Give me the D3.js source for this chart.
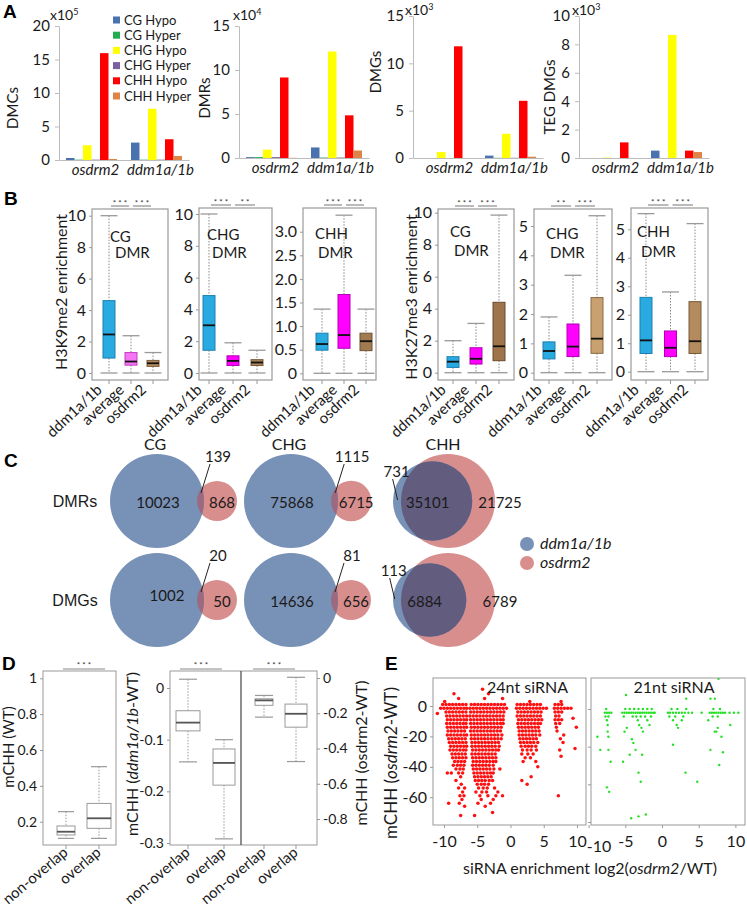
<!DOCTYPE html>
<html><head><meta charset="utf-8">
<script src="https://cdn.jsdelivr.net/npm/d3@7/dist/d3.min.js"></script>
<style>body{margin:0;background:#fff}svg{display:block}</style>
</head><body><svg id="chart" width="747" height="908"></svg>
<script>
// ---------------- DATA ----------------
// Panel A
const groupsA = ["osdrm2", "ddm1a/1b"];
const seriesA = ["CG Hypo", "CG Hyper", "CHG Hypo", "CHG Hyper", "CHH Hypo", "CHH Hyper"];
const dmcValues = [[0.3, 0.05, 2.2, 0.05, 15.95, 0.15], [2.6, 0.05, 7.65, 0.05, 3.1, 0.6]];
const dmrValues = [[0.1, 0.1, 0.95, 0.1, 9.15, 0.02], [1.2, 0.05, 12.1, 0.05, 4.85, 0.85]];
const dmgValues = [[0, 0, 0.63, 0, 11.8, 0], [0.25, 0.02, 2.56, 0.02, 6.04, 0.14]];
const tegValues = [[0, 0, 0.03, 0, 1.1, 0], [0.52, 0, 8.67, 0, 0.52, 0.42]];
const ticksDMC = [0, 5, 10, 15, 20];
const ticksDMR = [0, 5, 10, 15];
const ticksDMG = [0, 5, 10, 15];
const ticksTEG = [0, 2, 4, 6, 8, 10];

// Panel B  (each box: [low, q1, median, q3, high])
const groupsB = ["ddm1a/1b", "average", "osdrm2"];
const k9CG  = [[0, 0.95, 2.45, 4.6, 10], [0, 0.5, 0.73, 1.3, 2.37], [0, 0.42, 0.62, 0.8, 1.3]];
const k9CHG = [[0, 1.43, 3.0, 4.87, 10], [0, 0.47, 0.76, 1.08, 1.9], [0, 0.47, 0.66, 0.84, 1.43]];
const k9CHH = [[0, 0.49, 0.62, 0.85, 1.36], [0, 0.53, 0.81, 1.67, 3.35], [0, 0.48, 0.68, 0.85, 1.36]];
const k27CG  = [[0, 0.33, 0.69, 1.0, 2.0], [0, 0.54, 0.87, 1.56, 3.08], [0, 0.75, 1.65, 4.4, 9.85]];
const k27CHG = [[0, 0.47, 0.74, 1.05, 1.9], [0, 0.55, 0.89, 1.66, 3.32], [0, 0.66, 1.16, 2.56, 5.35]];
const k27CHH = [[0, 0.64, 1.1, 2.61, 5.55], [0, 0.53, 0.84, 1.43, 2.8], [0, 0.64, 1.07, 2.46, 5.2]];
const sigB = [["***", "***"], ["***", "**"], ["***", "***"], ["***", "***"], ["**", "***"], ["***", "***"]];
const ticksB10 = [0, 2, 4, 6, 8, 10];
const ticksB3 = [0, 0.5, 1.0, 1.5, 2.0, 2.5, 3.0];
const ticksB5 = [0, 1, 2, 3, 4, 5];

// Panel C  (counts: [ddm1a/1b only, overlap, osdrm2 only])
const vennContexts = ["CG", "CHG", "CHH"];
const vennRows = ["DMRs", "DMGs"];
const vennDMR = [[10023, 139, 868], [75868, 1115, 6715], [731, 35101, 21725]];
const vennDMG = [[1002, 20, 50], [14636, 81, 656], [113, 6884, 6789]];
const vennSets = ["ddm1a/1b", "osdrm2"];

// Panel D
const groupsD = ["non-overlap", "overlap"];
const mchhWT   = [[0.107, 0.126, 0.144, 0.176, 0.256], [0.107, 0.163, 0.219, 0.302, 0.507]];
const mchhDdm  = [[-0.143, -0.083, -0.067, -0.044, 0.017], [-0.292, -0.188, -0.145, -0.118, -0.1]];
const mchhDrm  = [[-0.222, -0.155, -0.127, -0.118, -0.099], [-0.474, -0.279, -0.203, -0.148, 0.004]];
const ticksDWT = [0.2, 0.4, 0.6, 0.8, 1];
const ticksDDdm = [0, -0.1, -0.2, -0.3];
const ticksDDrm = [0, -0.2, -0.4, -0.6, -0.8];

// Panel E  (rows: [mCHH value, [siRNA log2 values...]])
const red24 = [
 [11, [-4.2]], [8, [-8.5, -3.3]], [5, [-7.8, -3.9, -1.2]], [3, [-9.9, 2.9, 7.6]],
 [1, [-10.2, -9.7, -9.2, -8.7, -8.2, -7.7, -7.2, -6.7, -5.9, -5.4, -4.9, -4.4, -3.9, -3.4, -2.9, -2.4, -1.9, -1.4, -0.9, 1.0, 1.5, 2.0, 2.5, 3.0, 3.5, 4.0, 4.5, 6.7, 7.2, 7.7]],
 [-1.5, [-10.5, -10, -9.5, -9, -8.5, -8, -7.5, -7, -6.6, -6.1, -5.6, -5.1, -4.6, -4.1, -3.6, -3.1, -2.6, -2.1, -1.6, -1.1, -0.6, 0.9, 1.4, 1.9, 2.4, 2.9, 3.4, 3.9, 4.4, 4.9, 5.4, 6.6, 7.1, 7.6, 8.1, 8.6, 9.1]],
 [-4, [-9.7, -9.2, -8.7, -8.2, -7.7, -7.2, -6.7, -6.0, -5.5, -5, -4.5, -4, -3.5, -3, -2.5, -2, -1.5, -1, 1.1, 1.6, 2.1, 2.6, 3.1, 3.6, 4.1, 4.6, 6.7, 7.2, 7.7]],
 [-5, [-11.0]],
 [-6.5, [-9.6, -9.1, -8.6, -8.1, -7.6, -7.1, -6.6, -6.1, -5.6, -5.1, -4.6, -4.1, -3.6, -3.1, -2.6, -2.1, -1.6, -1.1, 1.0, 1.5, 2, 2.5, 3, 3.5, 4, 4.5, 6.8, 7.3]],
 [-8, [9.4]],
 [-9, [-9.5, -9, -8.5, -8, -7.5, -7, -6.6, -6, -5.5, -5, -4.5, -4, -3.5, -3, -2.5, -2, -1.5, -1.1, 1.2, 1.7, 2.2, 2.7, 3.2, 3.7, 4.2, 4.7, 6.7, 7.2, 7.7]],
 [-11.5, [-9.6, -9.1, -8.6, -8.1, -7.6, -7.1, -6.7, -6, -5.5, -5, -4.5, -4, -3.5, -3, -2.5, -2, -1.5, -1.1, 1.1, 1.6, 2.1, 2.6, 3.1, 3.6, 4.1, 4.5, 6.8, 7.4]],
 [-14, [-9.5, -9, -8.5, -8, -7.5, -7, -6.6, -5.9, -5.4, -4.9, -4.4, -3.9, -3.4, -2.9, -2.4, -1.9, -1.4, 1.2, 1.7, 2.2, 2.7, 3.2, 3.7, 4.2, 6.9, 9.9]],
 [-16.5, [-9.4, -8.9, -8.4, -7.9, -7.4, -6.9, -6, -5.5, -5, -4.5, -4, -3.5, -3, -2.5, -2, -1.5, 1.3, 1.8, 2.3, 2.8, 3.3, 3.8, 4.3, 7.0]],
 [-19, [-9.5, -9, -8.5, -8, -7.5, -7, -6.6, -5.9, -5.4, -4.9, -4.4, -3.9, -3.4, -2.9, -2.4, -1.9, -1.3, 1.3, 1.8, 2.3, 2.8, 3.3, 3.8, 4.4, 8.0]],
 [-21.5, [-9.3, -8.8, -8.3, -7.8, -7.3, -6.8, -5.9, -5.4, -4.9, -4.4, -3.9, -3.4, -2.9, -2.4, -1.9, -1.4, 1.4, 1.9, 2.4, 2.9, 3.4, 3.9, 7.5]],
 [-24, [-9.2, -8.7, -8.2, -7.7, -7.2, -6.7, -5.8, -5.3, -4.8, -4.3, -3.8, -3.3, -2.8, -2.3, -1.8, 1.5, 2, 2.5, 3, 3.5, 4.1, 7.9]],
 [-26.5, [-9, -8.5, -8, -7.5, -7, -6.6, -5.8, -5.3, -4.8, -4.3, -3.8, -3.3, -2.8, -2.3, -1.7, 1.6, 2.2, 2.7, 3.2, 3.8]],
 [-28, [9.7]],
 [-29, [-9.1, -8.6, -8.1, -7.6, -7.1, -6.7, -5.7, -5.2, -4.7, -4.2, -3.7, -3.2, -2.7, -2.2, -1.8, 1.8, 2.5, 3.1, 3.9, 7.4]],
 [-31.5, [-8.8, -8.3, -7.8, -7.3, -6.8, -5.8, -5.3, -4.8, -4.3, -3.8, -3.3, -2.8, -2.3, 1.7, 2.6, 3.4]],
 [-33, [7.6]],
 [-34, [-8.7, -8.2, -7.7, -7.2, -6.7, -5.7, -5.2, -4.7, -4.2, -3.7, -3.2, -2.7, -2.2, 2.2, 3.0]],
 [-36.5, [-8.4, -7.9, -7.4, -6.9, -5.6, -5.1, -4.6, -4.1, -3.6, -3.1, -2.6, -2.2, 1.9, 3.8]],
 [-39, [-8.6, -8, -7.5, -7, -5.7, -5.2, -4.7, -4.2, -3.7, -3.2, -2.6]],
 [-40, [4.1]],
 [-41.5, [-8.2, -7.6, -7.1, -5.6, -5.1, -4.6, -4.1, -3.6, -3.1, -2.5, -1.6]],
 [-44, [-9.5, -8.9, -7.8, -7.2, -5.5, -5, -4.5, -4, -3.5, -3, -2.6]],
 [-46.5, [-7.5, -5.4, -4.9, -4.4, -3.9, -3.4, -2.9, 3.1]],
 [-49, [-8.2, -5.3, -4.8, -4.3, -3.8, -3.2, -2.7, 1.7]],
 [-51.5, [-7.4, -5, -4.4, -3.9, -3.3, 2.5]],
 [-54, [-7.8, -6.9, -4.8, -4.1, -3.5, -2.4]],
 [-56.5, [-7.2, -5.2, -4.3, -3.6, -1.9]],
 [-59, [-7.6, -7.0, -4.6, -3.4, -2.2, -1.2, 7.2]],
 [-61.5, [-7.3, -4.4, -2.6]],
 [-64, [-9.3, -7.7, -4.9, -3.0]],
 [-66, [-6.9, -3.8]],
 [-70, [-2.7]],
 [-72, [-7.5, -5.4]]
];
const green21 = [
 [16, [7.7]], [7.4, [-4.9]], [5.5, [3.3, 6.6, 7.2]],
 [0, [-7.6, -5.0, -4.4, -3.8, -3.2, -2.6, -2.0, -1.4, 1.3, 2.1, 3.3, 7.0, 7.9]],
 [-2, [-7.8, -7.5, -7.2, -6.9, -5.4, -5.1, -4.8, -4.5, -4.2, -3.9, -3.6, -3.3, -3.0, -2.7, -2.4, -2.1, -1.8, -1.5, -1.2, -1.0, 0.8, 1.1, 1.5, 1.9, 2.3, 2.7, 3.1, 3.6, 4.1, 5.4, 6.5, 6.8, 7.1, 7.4, 7.7, 8.0, 8.3, 8.6, 9.2, 9.8, 10.4]],
 [-4, [-7.7, -7.3, -5.2, -4.0, -3.5, -2.9, -2.3, -1.5, 1.0, 1.8, 2.9, 6.9, 7.6]],
 [-6, [-7.5, -3.3, -2.0, 1.5, 2.7, 6.3]],
 [-8.5, [-7.4, -3.1, -1.7, 2.0, 9.3]],
 [-10, [-4.8, -2.8, 2.2, 7.6]],
 [-12, [-7.4, -5.1, -2.6, 7.2, 7.4]],
 [-14.7, [-8.8, -7.3, 8.1]],
 [-16, [-4.1]], [-18, [-3.9]], [-19, [1.5]],
 [-21.7, [-8.4, -7.3, -3.6, 6.6]],
 [-23, [8.3]], [-24.3, [-4.4, -2.7]],
 [-28, [-7.0, -5.3]], [-29.7, [7.8]],
 [-33.8, [-3.2, 3.2]], [-38.6, [-2.9, 4.8]],
 [-41.6, [-7.5]], [-44, [-7.2]],
 [-56, [-2.2]], [-57, [-3.2]], [-58, [-4.2]]
];
const ticksEx = [-10, -5, 0, 5, 10];
const ticksEy = [0, -20, -40, -60];

// ---------------- DRAWING ----------------
const svg = d3.select("#chart");
const FONT = "Lato, 'Open Sans', sans-serif";
const ARIAL = "'Liberation Sans', Arial, sans-serif";
const fmtH = d => String(d);   // ASCII hyphen for negatives, as in the figure
svg.append("rect").attr("width", 747).attr("height", 908).attr("fill", "#fff");

function letter(t, x, y) {
  svg.append("text").attr("x", x).attr("y", y).text(t)
    .attr("font-family", ARIAL).attr("font-weight", "bold").attr("font-size", 19).attr("fill", "#000");
}
function styleAxis(ax, size) {
  ax.selectAll("line").attr("stroke", "#999");
  ax.selectAll("path").attr("stroke", "#999");
  ax.selectAll("text").attr("font-family", FONT).attr("font-size", size).attr("fill", "#1a1a1a");
}
function vtitle(g, x, y, parts, size) {
  const t = g.append("text").attr("transform", `translate(${x},${y}) rotate(-90)`)
    .attr("text-anchor", "middle").attr("font-family", FONT).attr("font-size", size).attr("fill", "#1a1a1a");
  parts.forEach(p => t.append("tspan").text(p[0]).attr("font-style", p[1] ? "italic" : "normal"));
  return t;
}

// ---- Panel A ----
letter("A", 3, 18);
const colorsA = ["#4A72AE", "#22AD55", "#FFFF00", "#7B5FA0", "#FF0000", "#DF8448"];
function barChart(vals, ticks, xr, yr, expo, expPos, title, titlePos) {
  const g = svg.append("g");
  const x0 = d3.scaleBand().domain(groupsA).range(xr).paddingInner(0.215).paddingOuter(0.1075);
  const x1 = d3.scaleBand().domain(seriesA).range([0, x0.bandwidth()]);
  const y = d3.scaleLinear().domain([0, ticks[ticks.length - 1]]).range(yr);
  const ay = g.append("g").attr("transform", `translate(${xr[0]},0)`)
    .call(d3.axisLeft(y).tickValues(ticks).tickSize(4).tickSizeOuter(0).tickPadding(5));
  styleAxis(ay, 15);
  ay.selectAll("path,line").attr("stroke", "#bcbcbc");
  const ax = g.append("g").attr("transform", `translate(0,${yr[0]})`)
    .call(d3.axisBottom(x0).tickSize(0).tickSizeOuter(0).tickPadding(4));
  styleAxis(ax, 15);
  ax.select("path").attr("stroke", "#bcbcbc");
  ax.selectAll("text").attr("font-style", "italic").attr("dx", 4);
  groupsA.forEach((gn, i) => seriesA.forEach((s, j) => {
    g.append("rect").attr("x", x0(gn) + x1(s)).attr("width", x1.bandwidth())
      .attr("y", y(vals[i][j])).attr("height", yr[0] - y(vals[i][j])).attr("fill", colorsA[j]);
  }));
  const e = g.append("text").attr("x", expPos[0]).attr("y", expPos[1])
    .attr("font-family", FONT).attr("font-size", 14).attr("fill", "#1a1a1a");
  e.append("tspan").text("x10");
  e.append("tspan").text(expo).attr("font-size", 9).attr("dy", -5);
  vtitle(g, titlePos[0], titlePos[1], [[title, false]], 15);
}
barChart(dmcValues, ticksDMC, [59, 189], [160, 26], "5", [50, 20], "DMCs", [18, 108]);
barChart(dmrValues, ticksDMR, [239, 369], [158, 26], "4", [233, 20], "DMRs", [210, 98]);
barChart(dmgValues, ticksDMG, [413, 543], [158, 16], "3", [405, 15], "DMGs", [381, 72]);
barChart(tegValues, ticksTEG, [579, 709], [158, 16], "3", [572, 15], "TEG DMGs", [555, 97]);
// legend A
const legA = svg.append("g");
seriesA.forEach((s, j) => {
  legA.append("rect").attr("x", 113).attr("y", 20 + j * 15.2 - 3.5).attr("width", 7).attr("height", 7).attr("fill", colorsA[j]);
  legA.append("text").attr("x", 124).attr("y", 20 + j * 15.2 + 4.5).text(s)
    .attr("font-family", FONT).attr("font-size", 13).attr("fill", "#1a1a1a");
});

// ---- Panel B ----
letter("B", 4, 205);
function boxPanel(cfg, data, sig) {
  const g = svg.append("g");
  const [fx0, fx1, fy0, fy1] = cfg.frame;
  const y = d3.scaleLinear().domain([0, cfg.tmax]).range([cfg.y0, cfg.yt]);
  const x = d3.scalePoint().domain(cfg.groups).range(cfg.cx);
  g.append("rect").attr("x", fx0).attr("y", fy0).attr("width", fx1 - fx0).attr("height", fy1 - fy0)
    .attr("fill", "none").attr("stroke", cfg.frameColor || "#9a9a9a").attr("stroke-width", 1.2);
  const ay = g.append("g").attr("transform", `translate(${fx0},0)`)
    .call(d3.axisLeft(y).tickValues(cfg.ticks).tickSize(3).tickPadding(3).tickFormat(cfg.fmt));
  styleAxis(ay, cfg.fs || 16);
  ay.select("path").remove();
  cfg.groups.forEach((gn, i) => {
    const d = data[i], cx = x(gn), bw = cfg.bw, cw = cfg.cw;
    g.append("line").attr("x1", cx).attr("x2", cx).attr("y1", y(d[4])).attr("y2", y(d[3]))
      .attr("stroke", "#888").attr("stroke-dasharray", "1.5,1.5");
    g.append("line").attr("x1", cx).attr("x2", cx).attr("y1", y(d[1])).attr("y2", y(d[0]))
      .attr("stroke", "#888").attr("stroke-dasharray", "1.5,1.5");
    [d[0], d[4]].forEach(v => g.append("line").attr("x1", cx - cw / 2).attr("x2", cx + cw / 2)
      .attr("y1", y(v)).attr("y2", y(v)).attr("stroke", "#999").attr("stroke-width", 1.3));
    g.append("rect").attr("x", cx - bw / 2).attr("width", bw).attr("y", y(d[3])).attr("height", y(d[1]) - y(d[3]))
      .attr("fill", cfg.fills[i]).attr("stroke", cfg.strokes[i]).attr("stroke-width", 1);
    g.append("line").attr("x1", cx - bw / 2).attr("x2", cx + bw / 2).attr("y1", y(d[2])).attr("y2", y(d[2]))
      .attr("stroke", cfg.medColor || "#111").attr("stroke-width", 1.8);
    g.append("line").attr("x1", cx).attr("x2", cx).attr("y1", fy1).attr("y2", fy1 + 4).attr("stroke", "#999");
    g.append("text").attr("transform", `translate(${cx + cfg.lx},${fy1 + cfg.ly}) rotate(${cfg.rot})`)
      .attr("text-anchor", "end").text(gn).attr("font-family", FONT).attr("font-size", 15).attr("fill", "#1a1a1a");
  });
  sig.forEach((s, i) => {
    const a = x(cfg.groups[i]) + 2, b = x(cfg.groups[i + 1]) - 2;
    g.append("line").attr("x1", a).attr("x2", b).attr("y1", fy0 - 3).attr("y2", fy0 - 3).attr("stroke", "#777");
    g.append("text").attr("x", (a + b) / 2).attr("y", fy0 - 3.5).attr("text-anchor", "middle").text(s.split("").join(" "))
      .attr("font-family", FONT).attr("font-size", 8).attr("fill", "#333");
  });
  if (cfg.label) cfg.label.forEach(l => g.append("text").attr("x", l[1]).attr("y", l[2]).text(l[0])
    .attr("font-family", FONT).attr("font-size", 15).attr("fill", "#1a1a1a"));
  return {g, y, x};
}
const BLUE = "#29AAE1", BLUE_S = "#1d80b0", PINK = "#FF00FF", PINK_S = "#b400b4";
const fmt0 = d3.format("d"), fmt1 = v => v === 0 ? "0" : d3.format(".1f")(v);
const bBase = {groups: groupsB, bw: 12, cw: 17, lx: -6, ly: 11, rot: -43};
boxPanel({...bBase, frame: [92, 168, 209, 380], tmax: 10, y0: 373, yt: 215.7, ticks: ticksB10, fmt: fmt0, cx: [109, 153],
  fills: [BLUE, "#F576F5", "#B08A5E"], strokes: [BLUE_S, "#c040c0", "#7d5d3a"],
  label: [["CG", 110, 242], ["DMR", 115, 258]]}, k9CG, sigB[0]);
boxPanel({...bBase, frame: [199, 272, 208, 380], tmax: 10, y0: 373, yt: 214, ticks: ticksB10, fmt: fmt0, cx: [209, 257],
  fills: [BLUE, PINK, "#A8845E"], strokes: [BLUE_S, PINK_S, "#7d5d3a"],
  label: [["CHG", 207, 240], ["DMR", 212, 258]]}, k9CHG, sigB[1]);
boxPanel({...bBase, frame: [303, 376, 208, 380], tmax: 3, y0: 373.3, yt: 231.7, ticks: ticksB3, fmt: fmt1, cx: [322, 366],
  fills: [BLUE, PINK, "#A07A50"], strokes: [BLUE_S, PINK_S, "#6f5233"],
  label: [["CHH", 315, 239], ["DMR", 318, 258]]}, k9CHH, sigB[2]);
boxPanel({...bBase, frame: [438, 514, 209, 380], tmax: 10, y0: 372.7, yt: 212.7, ticks: ticksB10, fmt: fmt0, cx: [453, 499],
  fills: [BLUE, PINK, "#A0744A"], strokes: [BLUE_S, PINK_S, "#6a4a2c"],
  label: [["CG", 450, 237], ["DMR", 454, 256]]}, k27CG, sigB[3]);
boxPanel({...bBase, frame: [534, 612, 209, 380], tmax: 5, y0: 372.7, yt: 226, ticks: ticksB5, fmt: fmt0, cx: [549, 597],
  fills: [BLUE, PINK, "#C9A070"], strokes: [BLUE_S, PINK_S, "#8a6a44"],
  label: [["CHG", 546, 239], ["DMR", 550, 258]]}, k27CHG, sigB[4]);
boxPanel({...bBase, frame: [631, 708, 208, 380], tmax: 5, y0: 371.7, yt: 229.3, ticks: ticksB5, fmt: fmt0, cx: [646, 695],
  fills: [BLUE, PINK, "#B38B5E"], strokes: [BLUE_S, PINK_S, "#7a5a38"],
  label: [["CHH", 637, 237], ["DMR", 641, 257]]}, k27CHH, sigB[5]);
vtitle(svg, 67, 292, [["H3K9me2 enrichment", false]], 16);
vtitle(svg, 417, 297, [["H3K27me3 enrichment", false]], 16);

// ---- Panel C ----
letter("C", 4, 467);
const cBlue = "#7891B6", cPink = "#D98E8E", cOver = "#625C7E";
const colX = {CG: 157, CHG: 291, CHH: 448};
const rowY = {DMRs: 501, DMGs: 600};
const rPow = d3.scalePow().exponent(0.37).range([0, 47]);
const vennG = svg.append("g");
vennContexts.forEach(c => vennG.append("text").attr("x", c === "CHH" ? colX[c] - 5 : colX[c] - 2).attr("y", 450)
  .attr("text-anchor", "middle").text(c).attr("font-family", FONT).attr("font-size", 16).attr("fill", "#1a1a1a"));
vennRows.forEach(rn => vennG.append("text").attr("x", 75).attr("y", rowY[rn] + 6).attr("text-anchor", "middle")
  .text(rn).attr("font-family", ARIAL).attr("font-size", 16).attr("fill", "#1a1a1a"));
function venn(counts, ctx, row, id) {
  const tB = counts[0] + counts[1], tP = counts[1] + counts[2];
  rPow.domain([0, Math.max(tB, tP)]);
  const rB = Math.max(20, rPow(tB)), rP = Math.max(20, rPow(tP));
  const cy = rowY[row];
  let bx, px;
  if (tB >= tP) { bx = colX[ctx]; px = bx + rB + rP - 7; } else { px = colX[ctx]; bx = px - (rP - rB) - 8; }
  const g = vennG.append("g");
  g.append("circle").attr("cx", px).attr("cy", cy).attr("r", rP).attr("fill", cPink);
  g.append("circle").attr("cx", bx).attr("cy", cy).attr("r", rB).attr("fill", cBlue);
  g.append("clipPath").attr("id", id).append("circle").attr("cx", px).attr("cy", cy).attr("r", rP);
  g.append("circle").attr("cx", bx).attr("cy", cy).attr("r", rB).attr("fill", tB >= tP ? "#9c6a80" : cOver)
    .attr("clip-path", `url(#${id})`);
  const T = (s, x, y) => g.append("text").attr("x", x).attr("y", y).attr("text-anchor", "middle").text(s)
    .attr("font-family", FONT).attr("font-size", 15).attr("fill", "#1a1a1a");
  if (tB >= tP) {
    T(counts[0], bx + (row === "DMGs" && ctx === "CG" ? 10 : 1), cy + (row === "DMGs" && ctx === "CG" ? 1 : 7));
    T(counts[2], px + 5, cy + 7);
    T(counts[1], px + 1, cy - 39);
    g.append("line").attr("x1", px - 16).attr("y1", cy - 8).attr("x2", px - 7).attr("y2", cy - 37).attr("stroke", "#222");
  } else {
    T(counts[1], bx - 5, cy + 7);
    T(counts[2], px + 52, cy + 7);
    T(counts[0], bx - 36, cy - 24);
    g.append("line").attr("x1", bx - 35).attr("y1", cy - 1).attr("x2", bx - 40).attr("y2", cy - 22).attr("stroke", "#222");
  }
}
vennContexts.forEach((c, i) => { venn(vennDMR[i], c, "DMRs", "cr" + i); venn(vennDMG[i], c, "DMGs", "cg" + i); });
vennSets.forEach((s, i) => {
  vennG.append("circle").attr("cx", 527).attr("cy", 544 + i * 19).attr("r", 7).attr("fill", i ? cPink : cBlue);
  vennG.append("text").attr("x", 540).attr("y", 549 + i * 19).text(s).attr("font-style", "italic")
    .attr("font-family", FONT).attr("font-size", 16).attr("fill", "#1a1a1a");
});

// ---- Panel D ----
letter("D", 2, 670);
function whiteBoxes(g, y, x, data, widths, capW) {
  groupsD.forEach((gn, i) => {
    const d = data[i], cx = x(gn), bw = widths[i];
    g.append("line").attr("x1", cx).attr("x2", cx).attr("y1", y(d[4])).attr("y2", y(d[3])).attr("stroke", "#999").attr("stroke-dasharray", "1.5,1.5");
    g.append("line").attr("x1", cx).attr("x2", cx).attr("y1", y(d[1])).attr("y2", y(d[0])).attr("stroke", "#999").attr("stroke-dasharray", "1.5,1.5");
    [d[0], d[4]].forEach(v => g.append("line").attr("x1", cx - capW / 2).attr("x2", cx + capW / 2).attr("y1", y(v)).attr("y2", y(v)).attr("stroke", "#999").attr("stroke-width", 1.2));
    g.append("rect").attr("x", cx - bw / 2).attr("width", bw).attr("y", y(d[3])).attr("height", y(d[1]) - y(d[3]))
      .attr("fill", "#fff").attr("stroke", "#999");
    g.append("line").attr("x1", cx - bw / 2).attr("x2", cx + bw / 2).attr("y1", y(d[2])).attr("y2", y(d[2])).attr("stroke", "#555").attr("stroke-width", 1.8);
    g.append("line").attr("x1", cx).attr("x2", cx).attr("y1", 845).attr("y2", 849).attr("stroke", "#999");
    g.append("text").attr("transform", `translate(${cx + 3},${854}) rotate(-40)`).attr("text-anchor", "end")
      .text(gn).attr("font-family", FONT).attr("font-size", 15).attr("fill", "#1a1a1a");
  });
}
function sigLine(g, a, b, yy, s) {
  g.append("line").attr("x1", a).attr("x2", b).attr("y1", yy).attr("y2", yy).attr("stroke", "#888");
  g.append("text").attr("x", (a + b) / 2).attr("y", yy - 1).attr("text-anchor", "middle").text(s.split("").join(" "))
    .attr("font-family", FONT).attr("font-size", 8).attr("fill", "#333");
}
const gD = svg.append("g");
// D1
const yD1 = d3.scaleLinear().domain([0.2, 1]).range([821.7, 678.3]);
const xD1 = d3.scalePoint().domain(groupsD).range([66, 99]);
gD.append("rect").attr("x", 43).attr("y", 671).attr("width", 73).attr("height", 174).attr("fill", "none").attr("stroke", "#999");
const aD1 = gD.append("g").attr("transform", "translate(43,0)").call(d3.axisLeft(yD1).tickValues(ticksDWT).tickSize(3).tickPadding(3).tickFormat(fmtH));
styleAxis(aD1, 14); aD1.select("path").remove();
whiteBoxes(gD, yD1, xD1, mchhWT, [18, 24], 16);
sigLine(gD, 63, 105, 669, "***");
vtitle(gD, 14, 747, [["mCHH (WT)", false]], 15);
// D2
const yD2a = d3.scaleLinear().domain([0, -0.3]).range([688, 843]);
const yD2b = d3.scaleLinear().domain([0, -0.8]).range([678, 819]);
const xD2a = d3.scalePoint().domain(groupsD).range([188, 224]);
const xD2b = d3.scalePoint().domain(groupsD).range([264, 296]);
gD.append("rect").attr("x", 170).attr("y", 671).attr("width", 147).attr("height", 174).attr("fill", "none").attr("stroke", "#999");
gD.append("line").attr("x1", 241).attr("x2", 241).attr("y1", 671).attr("y2", 845).attr("stroke", "#444").attr("stroke-width", 1.2);
const aD2a = gD.append("g").attr("transform", "translate(170,0)").call(d3.axisLeft(yD2a).tickValues(ticksDDdm).tickSize(3).tickPadding(3).tickFormat(fmtH));
styleAxis(aD2a, 14); aD2a.select("path").remove();
const aD2b = gD.append("g").attr("transform", "translate(317,0)").call(d3.axisRight(yD2b).tickValues(ticksDDrm).tickSize(3).tickPadding(3).tickFormat(fmtH));
styleAxis(aD2b, 14); aD2b.select("path").remove();
whiteBoxes(gD, yD2a, xD2a, mchhDdm, [24, 22], 18);
whiteBoxes(gD, yD2b, xD2b, mchhDrm, [18, 22], 18);
sigLine(gD, 180, 222, 669, "***");
sigLine(gD, 253, 295, 669, "***");
vtitle(gD, 138, 754, [["mCHH (", false], ["ddm1a/1b", true], ["-WT)", false]], 16);
vtitle(gD, 367, 753, [["mCHH (osdrm2-WT)", false]], 16);

// ---- Panel E ----
letter("E", 385, 670);
const gE = svg.append("g");
function scatter(frame, xs, ys, rows, color, r, labelTicks, title, id) {
  const [fx0, fx1, fy0, fy1] = frame;
  gE.append("clipPath").attr("id", id).append("rect").attr("x", fx0).attr("y", fy0).attr("width", fx1 - fx0).attr("height", fy1 - fy0);
  const pts = rows.flatMap(rw => rw[1].map(v => [v, rw[0]]));
  gE.append("g").attr("clip-path", `url(#${id})`).selectAll("circle").data(pts).join("circle")
    .attr("cx", d => xs(d[0])).attr("cy", d => ys(d[1])).attr("r", r).attr("fill", color);
  gE.append("rect").attr("x", fx0).attr("y", fy0).attr("width", fx1 - fx0).attr("height", fy1 - fy0).attr("fill", "none").attr("stroke", "#999");
  const ay = gE.append("g").attr("transform", `translate(${fx0},0)`).call(d3.axisLeft(ys).tickValues(ticksEy).tickSize(3).tickPadding(3).tickFormat(fmtH));
  styleAxis(ay, 16); ay.select("path").remove();
  if (!labelTicks) ay.selectAll("text").remove();
  const ax = gE.append("g").attr("transform", `translate(0,${fy1})`).call(d3.axisBottom(xs).tickValues(ticksEx).tickSize(3).tickPadding(8).tickFormat(fmtH));
  styleAxis(ax, 16); ax.select("path").remove();
  if (!labelTicks) ax.selectAll("text").filter(d => d === -10).attr("dx", 10).attr("dy", "1.0em");
  gE.append("text").attr("x", (fx0 + fx1) / 2 + (labelTicks ? 18 : 6)).attr("y", 693).attr("text-anchor", "middle").text(title)
    .attr("font-family", FONT).attr("font-size", 16).attr("fill", "#1a1a1a");
}
const xE1 = d3.scaleLinear().domain([-10, 10]).range([444, 577]);
const yE1 = d3.scaleLinear().domain([0, -60]).range([706, 797.2]);
const xE2 = d3.scaleLinear().domain([-10, 10]).range([588.6, 735.4]);
const yE2 = d3.scaleLinear().domain([0, -60]).range([709, 822]);
scatter([433, 586, 678, 825], xE1, yE1, red24, "#FF1010", 1.75, true, "24nt siRNA", "ce1");
scatter([591, 745, 678, 825], xE2, yE2, green21, "#22E022", 1.2, false, "21nt siRNA", "ce2");
vtitle(gE, 397, 763, [["mCHH (", false], ["osdrm2", true], ["-WT)", false]], 17);
const xt = gE.append("text").attr("x", 590).attr("y", 874).attr("text-anchor", "middle")
  .attr("font-family", FONT).attr("font-size", 16).attr("fill", "#1a1a1a");
xt.append("tspan").text("siRNA enrichment log2(");
xt.append("tspan").text("osdrm2").attr("font-style", "italic");
xt.append("tspan").text("/WT)");
</script></body></html>
